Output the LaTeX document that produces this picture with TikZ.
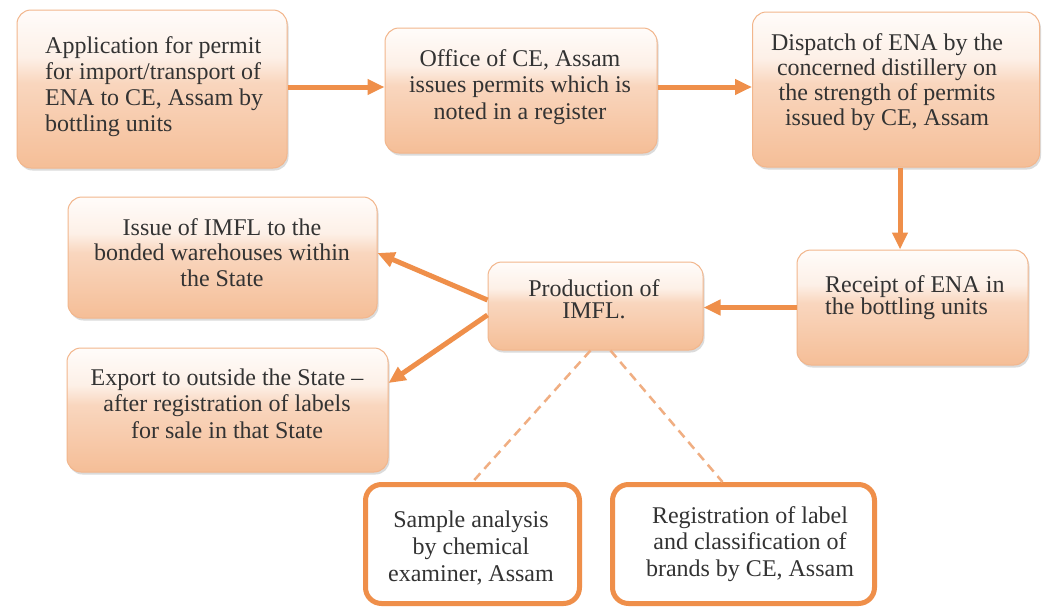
\documentclass[tikz,border=0pt]{standalone}
\usepackage{fontspec}
\setmainfont{Liberation Serif}
\usetikzlibrary{arrows.meta,shadows}
\definecolor{arr}{HTML}{EF8F4A}
\definecolor{dashc}{HTML}{F0AE82}
\definecolor{pBord}{HTML}{F2B68C}
\definecolor{pB}{HTML}{F5BE97}
\definecolor{pM}{HTML}{F9D6BE}
\definecolor{pL}{HTML}{FDF0E7}
\definecolor{pW}{HTML}{FFFCFA}
\definecolor{txtc}{HTML}{333333}
\pgfdeclareverticalshading{gloss}{100bp}{color(0bp)=(pB); color(25bp)=(pB); color(52bp)=(pM); color(60bp)=(pL); color(75bp)=(pW); color(100bp)=(pW)}
\begin{document}
\begin{tikzpicture}[x=1pt,y=-1pt,
  box/.style={draw=pBord, line width=1pt, rounded corners=14pt, shade, shading=gloss,
    drop shadow={shadow xshift=1.5pt, shadow yshift=-2.5pt, opacity=0.35, fill=black!40}, inner sep=0pt},
  wbox/.style={draw=arr, line width=5pt, rounded corners=16pt, fill=white, inner sep=0pt},
  txt/.style={text=txtc, align=center, inner sep=0pt},
  flow/.style={draw=arr, line width=5pt, -{Triangle[length=17pt,width=15pt]}},
  dashlink/.style={draw=dashc, line width=2.5pt, dash pattern=on 9pt off 6pt}
]
\useasboundingbox[fill=white] (0,0) rectangle (1042,608);

% shaded boxes
\node[box, minimum width=270pt, minimum height=158pt] (app) at (152,89) {};
\node[box, minimum width=272pt, minimum height=125pt] (office) at (521,90.5) {};
\node[box, minimum width=287pt, minimum height=155pt] (disp) at (896,89.5) {};
\node[box, minimum width=231pt, minimum height=115pt] (recp) at (912.5,307.5) {};
\node[box, minimum width=215pt, minimum height=88pt] (prod) at (595.5,306) {};
\node[box, minimum width=309pt, minimum height=121pt] (issue) at (222.5,257.5) {};
\node[box, minimum width=321pt, minimum height=124pt] (export) at (227.5,410) {};
% white boxes
\node[wbox, minimum width=214pt, minimum height=119pt] (sample) at (472.5,544) {};
\node[wbox, minimum width=262pt, minimum height=119pt] (reg) at (743.5,544) {};

% texts
\node[txt, align=left, anchor=west, font=\fontsize{24}{26}\selectfont] (appT) at (45,86.5)
  {Application for permit\\for import/transport of\\ENA to CE, Assam by\\bottling units};
\node[txt, font=\fontsize{24}{26.7}\selectfont] (officeT) at (520,87)
  {Office of CE, Assam\\issues permits which is\\noted in a register};
\node[txt, font=\fontsize{24}{25}\selectfont] (dispT) at (887,82)
  {Dispatch of ENA by the\\concerned distillery on\\the strength of permits\\issued by CE, Assam};
\node[txt, align=left, anchor=west, font=\fontsize{24}{22}\selectfont] (recpT) at (825,298)
  {Receipt of ENA in\\the bottling units};
\node[txt, font=\fontsize{24}{22}\selectfont] (prodT) at (594,299.5)
  {Production of\\IMFL.};
\node[txt, font=\fontsize{24}{25.5}\selectfont] (issueT) at (222,252.5)
  {Issue of IMFL to the\\bonded warehouses within\\the State};
\node[txt, font=\fontsize{24}{26.5}\selectfont] (exportT) at (227,403.5)
  {Export to outside the State –\\after registration of labels\\for sale in that State};
\node[txt, font=\fontsize{24}{27}\selectfont] (sampleT) at (471,548)
  {Sample analysis\\by chemical\\examiner, Assam};
\node[txt, font=\fontsize{24}{26.7}\selectfont] (regT) at (750,544)
  {Registration of label\\and classification of\\brands by CE, Assam};

% connectors
\draw[flow] ([yshift=2pt]app.east) -- ([yshift=2pt]app.east -| office.west);
\draw[flow] ([yshift=3.5pt]office.east) -- ([yshift=3.5pt]office.east -| disp.west);
\draw[flow] ([xshift=4pt]disp.south) -- ([xshift=4pt]disp.south |- recp.north);
\draw[flow] (recp.west) -- (recp.west -| prod.east);
\draw[flow] ([yshift=6pt]prod.west) -- ([yshift=4.5pt]issue.east);
\draw[flow] ([yshift=-9pt]prod.west) -- ([yshift=27pt]export.east);
\draw[dashlink] ([xshift=-5pt]prod.south) -- (sample.north);
\draw[dashlink] ([xshift=15pt]prod.south) -- ([xshift=-21pt]reg.north);
\end{tikzpicture}
\end{document}
